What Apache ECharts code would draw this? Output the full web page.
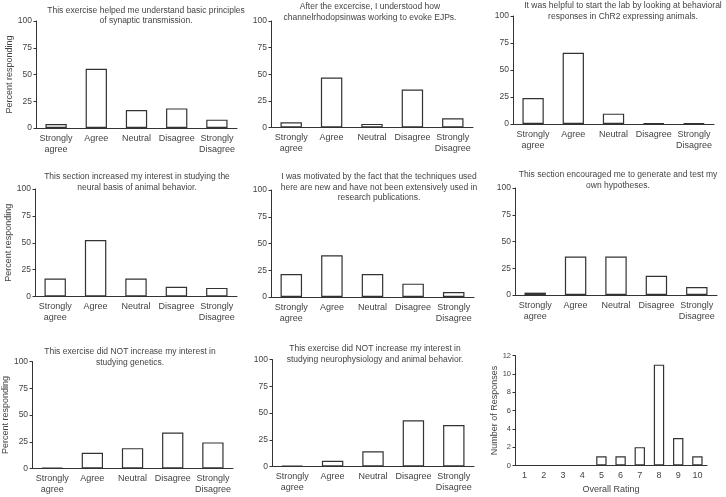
<!DOCTYPE html>
<html>
<head>
<meta charset="utf-8">
<script src="https://cdn.jsdelivr.net/npm/echarts@6/dist/echarts.min.js"></script>
<style>
html,body{margin:0;padding:0;background:#fff;}
#c{width:726px;height:497px;}
</style>
</head>
<body>
<div id="c"></div>
<script>
// ---- data ----
const likertCats = ['Strongly\nagree', 'Agree', 'Neutral', 'Disagree', 'Strongly\nDisagree'];
const titles = [
  'This exercise helped me understand basic principles\nof synaptic transmission.',
  'After the excercise, I understood how\nchannelrhodopsinwas working to evoke EJPs.',
  'It was helpful to start the lab by looking at behavioral\nresponses in ChR2 expressing animals.',
  'This section increased my interest in studying the\nneural basis of animal behavior.',
  'I was motivated by the fact that the techniques used\nhere are new and have not been extensively used in\nresearch publications.',
  'This section encouraged me to generate and test my\nown hypotheses.',
  'This exercise did NOT increase my interest in\nstudying genetics.',
  'This exercise did NOT increase my interest in\nstudying neurophysiology and animal behavior.'
];
const q1 = [3.7, 55.3, 16.8, 18.3, 7.8];
const q2 = [5.0, 46.9, 3.4, 35.6, 8.7];
const q3 = [24.0, 66.0, 9.6, 0.6, 0.6];
const q4 = [16.8, 52.5, 16.8, 9.0, 8.0];
const q5 = [21.5, 39.0, 21.5, 12.5, 4.7];
const q6 = [2.2, 36.0, 36.0, 18.0, 7.5];
const q7 = [0.6, 14.7, 19.0, 33.7, 24.4];
const q8 = [0.6, 5.3, 14.3, 43.2, 38.8];
const ratingCats = ['1', '2', '3', '4', '5', '6', '7', '8', '9', '10'];
const ratingCounts = [0, 0, 0, 0, 1, 1, 2, 11, 3, 1];
const percentTicks = {min: 0, max: 100, interval: 25};
const countTicks = {min: 0, max: 12, interval: 2};
const yNamePct = 'Percent responding';
const yNameCnt = 'Number of Responses';
const xNameCnt = 'Overall Rating';

// ---- layout ----
const FONT = '"Liberation Sans", Arial, Helvetica, sans-serif';
const TXT = '#444';
const LINE = '#333';
const grids = [
  {left: 36, top: 21, width: 201, height: 107},
  {left: 271, top: 21, width: 202, height: 106.5},
  {left: 513, top: 16, width: 201, height: 108},
  {left: 35, top: 189, width: 202, height: 107.5},
  {left: 271, top: 190, width: 203, height: 107},
  {left: 515, top: 188, width: 202, height: 107},
  {left: 31, top: 361.5, width: 202, height: 107},
  {left: 272, top: 359.5, width: 202, height: 107},
  {left: 515, top: 355.5, width: 192, height: 110}
];
const titlePos = [
  [146, 5], [370, 1.5], [623, 0.5],
  [137, 171.5], [379, 171.5], [618, 169.5],
  [130, 346.5], [375, 343.5]
];
const pctData = [q1, q2, q3, q4, q5, q6, q7, q8];
const yNameGap = [18, null, null, 18, null, null, 22, null];

const option = {
  animation: false,
  backgroundColor: '#fff',
  textStyle: {fontFamily: FONT},
  title: titles.map((t, i) => ({
    text: t,
    left: titlePos[i][0],
    top: titlePos[i][1],
    textAlign: 'center',
    padding: 0,
    textStyle: {fontFamily: FONT, fontSize: 8.5, lineHeight: 10.5, fontWeight: 'normal', color: TXT}
  })),
  grid: grids,
  xAxis: [],
  yAxis: [],
  series: []
};

function yAxisFor(i, ticks, name, gap, fs) {
  return {
    type: 'value', gridIndex: i, min: ticks.min, max: ticks.max, interval: ticks.interval,
    name: name || '', nameLocation: 'middle', nameGap: gap || 0,
    nameTextStyle: {fontFamily: FONT, fontSize: 9, color: TXT},
    axisLine: {show: true, lineStyle: {color: LINE, width: 1}},
    axisTick: {show: true, length: 2.5, lineStyle: {color: LINE}},
    axisLabel: {fontFamily: FONT, fontSize: fs, color: TXT, margin: 4},
    splitLine: {show: false}
  };
}
function xAxisFor(i, cats, name) {
  return {
    type: 'category', gridIndex: i, data: cats,
    name: name || '', nameLocation: 'middle', nameGap: 20,
    nameTextStyle: {fontFamily: FONT, fontSize: 9, color: TXT},
    axisLine: {show: true, lineStyle: {color: LINE, width: 1}},
    axisTick: {show: false},
    axisLabel: {fontFamily: FONT, fontSize: 9, lineHeight: 11, color: TXT, margin: 5, interval: 0}
  };
}
const barStyle = {color: '#fff', borderColor: LINE, borderWidth: 1.2};

pctData.forEach((d, i) => {
  option.xAxis.push(xAxisFor(i, likertCats));
  option.yAxis.push(yAxisFor(i, percentTicks, yNameGap[i] ? yNamePct : '', yNameGap[i], 8.5));
  option.series.push({type: 'bar', xAxisIndex: i, yAxisIndex: i, data: d, barWidth: '53%', itemStyle: barStyle, silent: true});
});
option.xAxis.push(xAxisFor(8, ratingCats, xNameCnt));
option.yAxis.push(yAxisFor(8, countTicks, yNameCnt, 12, 7.5));
option.series.push({type: 'bar', xAxisIndex: 8, yAxisIndex: 8, data: ratingCounts, barWidth: '54%', itemStyle: barStyle, silent: true});

const chart = echarts.init(document.getElementById('c'), null, {renderer: 'canvas'});
chart.setOption(option);
</script>
</body>
</html>
